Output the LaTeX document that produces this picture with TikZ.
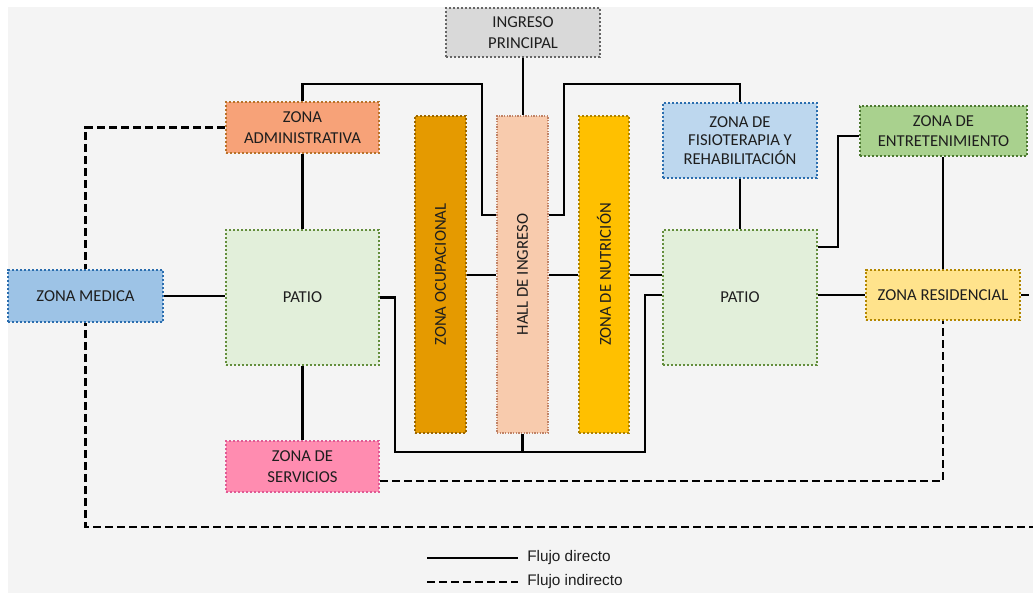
\documentclass[tikz,border=0pt]{standalone}
\usepackage{fontspec}
\setmainfont{Carlito}
\newfontfamily\leyfont{Liberation Sans}

\definecolor{fondo}{HTML}{F4F4F4}
\definecolor{tinta}{HTML}{1E1E1E}
\definecolor{cIng}{HTML}{D9D9D9}\definecolor{bIng}{HTML}{666666}
\definecolor{cAdm}{HTML}{F7A278}\definecolor{bAdm}{HTML}{B8722A}
\definecolor{cMed}{HTML}{9DC3E6}\definecolor{bMed}{HTML}{2A6DAE}
\definecolor{cPat}{HTML}{E2EFDA}\definecolor{bPat}{HTML}{638E3C}
\definecolor{cSer}{HTML}{FF8CB0}\definecolor{bSer}{HTML}{E05A94}
\definecolor{cOcu}{HTML}{E59A00}\definecolor{bOcu}{HTML}{9A6600}
\definecolor{cHal}{HTML}{F8CBAD}\definecolor{bHal}{HTML}{C08265}
\definecolor{cNut}{HTML}{FFC000}\definecolor{bNut}{HTML}{AD8200}
\definecolor{cFis}{HTML}{BDD7EE}\definecolor{bFis}{HTML}{2A6DAE}
\definecolor{cEnt}{HTML}{A9D18E}\definecolor{bEnt}{HTML}{4C7830}
\definecolor{cRes}{HTML}{FFE38C}\definecolor{bRes}{HTML}{B38700}

\tikzset{
  rotulo/.style={font=\fontsize{12.5}{15.4}\selectfont, text=tinta},
  zona/.style={rotulo, inner sep=0pt, align=center, line width=2pt,
    dash pattern=on 1.6pt off 1.4pt},
  sz/.style 2 args={minimum width=#1*0.75pt, minimum height=#2*0.75pt},
  barra/.style={label={[rotate=90,rotulo]center:#1}},
  directo/.style={line width=2pt, line join=miter},
  indirecto/.style={directo, dash pattern=on 6pt off 3pt},
  leyenda/.style={font=\leyfont\fontsize{11.5}{13}\selectfont, text=tinta,
    inner xsep=6.75pt, inner ysep=0pt, anchor=west}
}

\begin{document}
\begin{tikzpicture}[x=0.75pt, y=-0.75pt]
\useasboundingbox (0,0) rectangle (1033,596);
\fill[fondo] (8,7) rectangle (1033,593);

% zonas
\node[zona, sz={154}{49}, fill=cIng, draw=bIng] (ingreso) at (523,32.5) {INGRESO\\PRINCIPAL};
\node[zona, sz={153}{51}, fill=cAdm, draw=bAdm] (admin) at (302.5,127.5) {ZONA\\ADMINISTRATIVA};
\node[zona, sz={155}{52}, fill=cMed, draw=bMed] (medica) at (85.5,296) {ZONA MEDICA};
\node[zona, sz={153}{135}, fill=cPat, draw=bPat] (patioA) at (302.5,297.5) {PATIO};
\node[zona, sz={153}{51}, fill=cSer, draw=bSer] (servicios) at (302.5,466.5) {ZONA DE\\SERVICIOS};
\node[zona, sz={51}{317}, fill=cOcu, draw=bOcu, barra=ZONA OCUPACIONAL] (ocup) at (440.5,274.5) {};
\node[zona, sz={51}{317}, fill=cHal, draw=bHal, line width=1pt,
  dash pattern=on 1pt off 1pt, barra=HALL DE INGRESO] (hall) at (522.5,274.5) {};
\node[zona, sz={50}{317}, fill=cNut, draw=bNut, barra=ZONA DE NUTRICIÓN] (nutri) at (604,274.5) {};
\node[zona, sz={154}{75}, fill=cFis, draw=bFis, font=\fontsize{12.5}{14}\selectfont] (fisio) at (740,140.5)
  {ZONA DE\\FISIOTERAPIA Y\\REHABILITACIÓN};
\node[zona, sz={154}{135}, fill=cPat, draw=bPat] (patioB) at (740,297.5) {PATIO};
\node[zona, sz={167}{50}, fill=cEnt, draw=bEnt] (entret) at (943.5,131) {ZONA DE\\ENTRETENIMIENTO};
\node[zona, sz={154}{50}, fill=cRes, draw=bRes] (resid) at (943,295) {ZONA RESIDENCIAL};

% flujo directo
\draw[directo] (ingreso.south) -- (ingreso.south |- hall.north);
\draw[directo] (admin.north) |- (482,84) |- (hall.west |- 0,215);
\draw[directo] (hall.east |- 0,215) -| (564,84) -| (fisio.north);
\draw[directo] (admin.south) -- (patioA.north);
\draw[directo] (medica.east) -- (medica.east -| patioA.west);
\draw[directo] (patioA.south) -- (servicios.north);
\draw[directo] (patioA.east) -| (395,452) -| (645,295) -- (patioB.west |- 0,295);
\draw[directo] (hall.south) -- (hall.south |- 0,452);
\draw[directo] (ocup.east |- 0,275) -- (hall.west |- 0,275);
\draw[directo] (hall.east |- 0,275) -- (nutri.west |- 0,275);
\draw[directo] (nutri.east |- 0,275) -- (patioB.west |- 0,275);
\draw[directo] (fisio.south) -- (patioB.north);
\draw[directo] (patioB.east |- 0,247) -| (838,136) -- (entret.west |- 0,136);
\draw[directo] (entret.south -| resid.north) -- (resid.north);
\draw[directo] (patioB.east |- 0,295) -- (resid.west);

% flujo indirecto
\draw[indirecto] (admin.west) -| (medica.north);
\draw[indirecto] (servicios.east |- 0,481) -| (resid.south);
\begin{scope}
  \clip (0,0) rectangle (1033,596);
  \draw[indirecto] (resid.east) -| (1045,527) -| (medica.south);
\end{scope}

% leyenda
\coordinate (l1) at (427,558);
\coordinate (l2) at (427,582);
\node[leyenda] (tdir) at (518,558) {Flujo directo};
\node[leyenda] (tind) at (518,582) {Flujo indirecto};
\draw[directo] (l1) -- (tdir.west);
\draw[indirecto] (l2) -- (tind.west);
\end{tikzpicture}
\end{document}
